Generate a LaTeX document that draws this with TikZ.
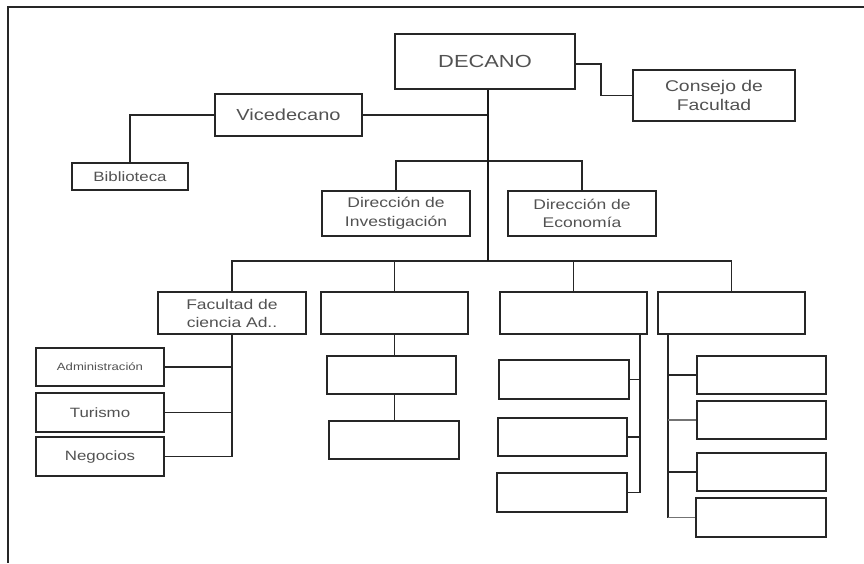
\documentclass[tikz,border=0pt]{standalone}
\usepackage{fontspec}
\setmainfont{Liberation Sans}[FakeStretch=1.25]
\tikzset{
  box/.style={draw=black!85, line width=1.8pt, fill=white, inner sep=0pt, align=center, text=black!68},
  link/.style={draw=black!85, line width=1.7pt},
  trunk/.style={draw=black!90, line width=2.8pt},
  faint/.style={draw=black!55, line width=1.1pt},
  frame/.style={draw=black!85, line width=1.7pt},
}
\begin{document}
\begin{tikzpicture}[x=1pt,y=-1pt]
\useasboundingbox (0,0) rectangle (864,563);
% frame
\coordinate (frtl) at (8,7);
\draw[frame] (864,7) -- (frtl) -- (8,563);
% top level
\node[box, minimum width=180pt, minimum height=55pt, font=\fontsize{17.5}{20}\selectfont] (dec) at (485,61.5) {DECANO};
\node[box, minimum width=162pt, minimum height=51pt, font=\fontsize{15.5}{19}\selectfont] (con) at (714,95.5) {Consejo de\\Facultad};
\node[box, minimum width=147pt, minimum height=42pt, font=\fontsize{16}{19}\selectfont] (vic) at (288.5,115) {Vicedecano};
\node[box, minimum width=116pt, minimum height=27pt, font=\fontsize{13.5}{15}\selectfont] (bib) at (130,176.5) {Biblioteca};
\node[box, minimum width=148pt, minimum height=45pt, font=\fontsize{14}{18.5}\selectfont] (inv) at (396,213.5) {Dirección de\\Investigación};
\node[box, minimum width=148pt, minimum height=45pt, font=\fontsize{14}{18.5}\selectfont] (eco) at (582,213.5) {Dirección de\\Economía};
% level 2
\node[box, minimum width=148pt, minimum height=42pt, font=\fontsize{14}{18}\selectfont] (fac) at (232,313) {Facultad de\\ciencia Ad..};
\node[box, minimum width=147pt, minimum height=42pt] (b2) at (394.5,313) {};
\node[box, minimum width=147pt, minimum height=42pt] (b3) at (573.5,313) {};
\node[box, minimum width=147pt, minimum height=42pt] (b4) at (731.5,313) {};
% facultad children
\node[box, minimum width=128pt, minimum height=38pt, font=\fontsize{10.5}{12}\selectfont] (adm) at (100,367) {Administración};
\node[box, minimum width=128pt, minimum height=39pt, font=\fontsize{13.5}{16}\selectfont] (tur) at (100,412.5) {Turismo};
\node[box, minimum width=128pt, minimum height=39pt, font=\fontsize{13.5}{16}\selectfont] (neg) at (100,456.5) {Negocios};
% b2 children
\node[box, minimum width=129pt, minimum height=38pt] (b21) at (391.5,375) {};
\node[box, minimum width=130pt, minimum height=38pt] (b22) at (394,440) {};
% b3 children
\node[box, minimum width=130pt, minimum height=39pt] (b31) at (564,379.5) {};
\node[box, minimum width=129pt, minimum height=38pt] (b32) at (562.5,437) {};
\node[box, minimum width=130pt, minimum height=39pt] (b33) at (562,492.5) {};
% b4 children
\node[box, minimum width=129pt, minimum height=38pt] (b41) at (761.5,375) {};
\node[box, minimum width=129pt, minimum height=38pt] (b42) at (761.5,420) {};
\node[box, minimum width=129pt, minimum height=38pt] (b43) at (761.5,472) {};
\node[box, minimum width=130pt, minimum height=39pt] (b44) at (761,517.5) {};
% connectors
\coordinate (tk) at (488,261);
\coordinate (db) at (488,161);
\draw[link] ([yshift=-2.5pt]dec.east) -- ++(25,0) |- (con.west);
\draw[link] (vic.east) -- (vic.east -| tk);
\draw[link] (vic.west) -| (bib.north);
\draw[link] (inv.north) |- (db) -| (eco.north);
\draw[link] (fac.north) |- (tk) -| (b4.north);
\draw[link] (b2.north) -- (b2.north |- tk);
\draw[link] (b3.north) -- (b3.north |- tk);
\draw[trunk] (dec.south -| tk) -- (tk);
% facultad
\draw[link] (fac.south) |- (neg.east);
\draw[link] (adm.east) -- (adm.east -| fac.south);
\draw[link] (tur.east) -- (tur.east -| fac.south);
% b2
\draw[link] (b2.south) -- (b2.south |- b21.north);
\draw[link] (b21.south -| b2.south) -- (b22.north -| b2.south);
% b3
\coordinate (b3v) at ([xshift=-8pt]b3.south east);
\draw[link] (b3v) |- (b33.east);
\draw[link] (b31.east) -- (b31.east -| b3v);
\draw[link] (b32.east) -- (b32.east -| b3v);
% b4
\coordinate (b4v) at ([xshift=11pt]b4.south west);
\draw[link] (b4v) -- (b4v |- b44.west);
\draw[faint] (b44.west) -- (b44.west -| b4v);
\draw[link] (b41.west) -- (b41.west -| b4v);
\draw[faint] (b42.west) -- (b42.west -| b4v);
\draw[link] (b43.west) -- (b43.west -| b4v);
\end{tikzpicture}
\end{document}
